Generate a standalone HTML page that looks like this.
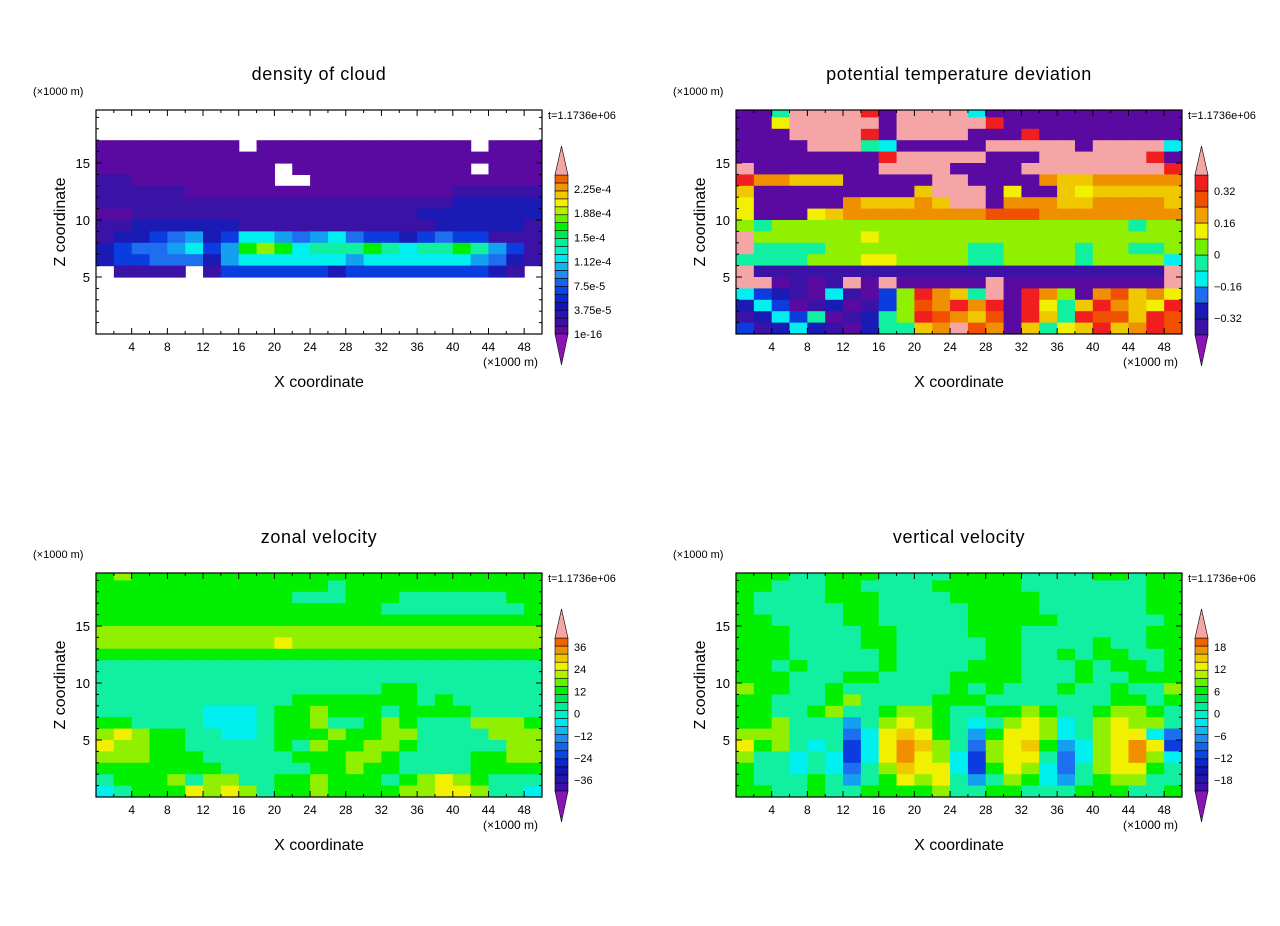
<!DOCTYPE html>
<html><head><meta charset="utf-8"><style>
html,body{margin:0;padding:0;background:#fff;}
svg{display:block;font-family:"Liberation Sans",sans-serif;}
</style></head><body>
<svg id="fig" width="1280" height="926" viewBox="0 0 1280 926" xmlns="http://www.w3.org/2000/svg"></svg>
<script>
// ---- data (level codes per 2 km column, rows from z=19-20 down to z=0-1) ----
const cloudRows = [
".........................",".........................",".........................",
"00000000.000000000000.000","0000000000000000000000000","0000000000.0000000000.000",
"1100000000..0000000000000","1111100000000000000011111","1111111111111111111122222",
"0011111111111111112222222","1122222211111111111222221","1223452366545643323433111",
"2344563589867778767787531","2334442566666656666665421",".1111.133333323333333321.",
".........................",".........................",".........................",
".........................","........................."];
const thetaRows = [
"007ffffe0ffff600000000000","00afffff0fffffe0000000000","000ffffe0ffff000e00000000",
"0000fff7600000fffff0ffff6","00000000efffff000ffffffe0","f0000000ffff0000ffffffffe",
"eccbbb00000ff0000cbbccccc","b000000000bfff0a00babbbbb","a00000cbbbcbff0cccbbccccb",
"a000abccccccccdddcccccccc","9799999999999999999999799","f999999a99999999999999999",
"f777799999999779999799779","7777999aa9999779999799996","f11111111111111111111111f",
"ff0101f0f00000f000000000f","6321061039ecb7f0ec90cdbca","2630120139dcece0ea7becbae",
"1263701279edcbd0eb7eddbed","3126210277bcfdc0b7abebced"];
const uRows = [
"8988888888888888888888888","8888888888888788888888888","8888888888877788877777788",
"8888888888888888777777778","8888888888888888888888888","9999999999999999999999999",
"9999999999a99999999999999","8888888888888888888888888","7777777777777777777777777",
"7777777777777777777777777","7777777777777777887777777","7777777777788888887877777",
"7777776667889888788887777","8877776667889778987779998","9a98877667888988997777999",
"a998877777879889987777799","9998887777788899877778899","8888888777778898877778888",
"7888979977889888789a98777","67888a9a97889888899aa9776"];
const wRows = [
"8887788877778888777788788","8877788777788888777777788","8777788877778888877777788",
"8777778877777888877777788","8877778877777888887777778","8887777887777888777777788",
"8887777887777788777787788","8887777787777788778788778","8878777787777888777878878",
"8887778877778888777877888","9887787777778787778778779","8877789777788877777778878",
"8877897789987788987789987","889777579a987679a9679a997","99977746aba8758aa9679aa64",
"a8976736acb9749ab8569aca3","97767636aca9639aa7469ac96","877676479baa638a96479aa87",
"877787578a9a7579865789977","8877877888897788777888778"];
const xTicks = [4,8,12,16,20,24,28,32,36,40,44,48];
const zTicks = [5,10,15];
const cloudLabels = ["2.25e-4","1.88e-4","1.5e-4","1.12e-4","7.5e-5","3.75e-5","1e-16"];
const thetaLabels = ["0.32","0.16","0","\u22120.16","\u22120.32"];
const uLabels = ["36","24","12","0","\u221212","\u221224","\u221236"];
const wLabels = ["18","12","6","0","\u22126","\u221212","\u221218"];

const PAL = {'0':'#5a0aa0','1':'#3a12a6','2':'#1a1ab4','3':'#0a3ce0','4':'#1e6ef0','5':'#14a0f0','6':'#00f0f0','7':'#10f0a0','8':'#00f000','9':'#90f000','a':'#f0f000','b':'#f0c800','c':'#f09000','d':'#f05000','e':'#f01e1e','f':'#f5a5a5'};
const BAR20 = ['#5a0aa0','#3c0fa8','#2814b4','#1414b4','#0a28d2','#0a46e6','#1464f0','#1e8cf0','#14b4f0','#00e6f0','#00f0c8','#00f096','#00e650','#00f000','#64f000','#b4f000','#f0f000','#f0c800','#f09600','#f06400','#f02814'];
const BAR10 = ['#3a12a6','#1a1ab4','#1e6ef0','#00f0f0','#10f0a0','#70f000','#f0f000','#f0a000','#f05000','#f01e1e'];

const NS='http://www.w3.org/2000/svg';
const svg=document.getElementById('fig');
function mk(tag,attrs,parent){const e=document.createElementNS(NS,tag);for(const k in attrs)e.setAttribute(k,attrs[k]);(parent||svg).appendChild(e);return e;}
function txt(s,x,y,size,anchor,parent){const t=mk('text',{x:x,y:y,'font-size':size,'text-anchor':anchor||'start',fill:'#000'},parent);t.textContent=s;return t;}

function panel(id,title,rows,X0,Y0,barColors,barTop,barBot,labels,labY0,labStep){
  const X1=X0+446, Y1=Y0+224, ZMAX=224/11.4;
  const xs=v=>X0+v/50*(X1-X0), ys=v=>Y1-v/ZMAX*(Y1-Y0);
  const g=mk('g',{});
  
  
  const cp=mk('clipPath',{id:'cp-'+id},g);mk('rect',{x:X0,y:Y0,width:X1-X0,height:Y1-Y0},cp);
  const hm=mk('g',{'clip-path':'url(#cp-'+id+')'},g);
  
  
  rows.forEach((row,ri)=>{const z=rows.length-1-ri;
    for(let c=0;c<25;c++){const ch=row[c];if(!ch||ch==='.')continue;
      const r=mk('rect',{x:xs(2*c),y:ys(z+1),width:xs(2*c+2)-xs(2*c)+0.6,height:ys(z)-ys(z+1)+0.6,fill:PAL[ch]||'#fff'},hm);
      
      
    }});
  const fr=mk('rect',{x:X0,y:Y0,width:X1-X0,height:Y1-Y0,fill:'none',stroke:'#000','stroke-width':1.2},g);
  
  
  for(let v=2;v<50;v+=2){const L=(v%4===0)?6:3;
    mk('line',{x1:xs(v),x2:xs(v),y1:Y1,y2:Y1-L,stroke:'#000'},g);mk('line',{x1:xs(v),x2:xs(v),y1:Y0,y2:Y0+L,stroke:'#000'},g);}
  for(let v=1;v<ZMAX;v+=1){const L=(v%5===0)?6:3;
    mk('line',{x1:X0,x2:X0+L,y1:ys(v),y2:ys(v),stroke:'#000'},g);mk('line',{x1:X1,x2:X1-L,y1:ys(v),y2:ys(v),stroke:'#000'},g);}
  xTicks.forEach(v=>{const t=txt(String(v),xs(v),Y1+17,12,'middle',g);});
  zTicks.forEach(v=>{const t=txt(String(v),X0-6,ys(v)+5,13,'end',g);});
  const ti=txt(title,(X0+X1)/2,Y0-30,18,'middle',g);ti.setAttribute('letter-spacing','0.6');
  const u1=txt('(\u00d71000 m)',X0-63,Y0-15,11,'start',g);
  const u2=txt('(\u00d71000 m)',X1-59,Y1+32,12,'start',g);
  const tt=txt('t=1.1736e+06',X1+6,Y0+9,11,'start',g);
  const xl=txt('X coordinate',(X0+X1)/2,Y1+53,16,'middle',g);
  const yl=txt('Z coordinate',0,0,16,'middle',g);yl.setAttribute('transform','translate('+(X0-31)+','+((Y0+Y1)/2)+') rotate(-90)');
  
  const cb=mk('g',{},g);
  const bx0=X1+13,bx1=X1+26,n=barColors.length,bh=(barBot-barTop)/n;
  barColors.forEach((c,i)=>{const r=mk('rect',{x:bx0,y:barBot-(i+1)*bh,width:bx1-bx0,height:bh,fill:c,stroke:'#000','stroke-width':0.6},cb);
    });
  mk('polygon',{points:bx0+','+barTop+' '+bx1+','+barTop+' '+((bx0+bx1)/2)+','+(barTop-29),fill:'#f5a5a5',stroke:'#000','stroke-width':0.6},cb);
  mk('polygon',{points:bx0+','+barBot+' '+bx1+','+barBot+' '+((bx0+bx1)/2)+','+(barBot+31),fill:'#8a14b4',stroke:'#000','stroke-width':0.6},cb);
  labels.forEach((s,i)=>{const t=txt(s,bx1+6,labY0+i*labStep+4,11,'start',cb);});
}
panel('cloud','density of cloud',cloudRows,96,110,BAR20.slice(0,20),175,334,cloudLabels,189,24.2);
panel('theta','potential temperature deviation',thetaRows,736,110,BAR10,175,335,thetaLabels,191,31.8);
panel('zonal','zonal velocity',uRows,96,573,BAR20.slice(1,20),638,791,uLabels,647,22.2);
panel('vertical','vertical velocity',wRows,736,573,BAR20.slice(1,20),638,791,wLabels,647,22.2);
</script>
</body></html>
